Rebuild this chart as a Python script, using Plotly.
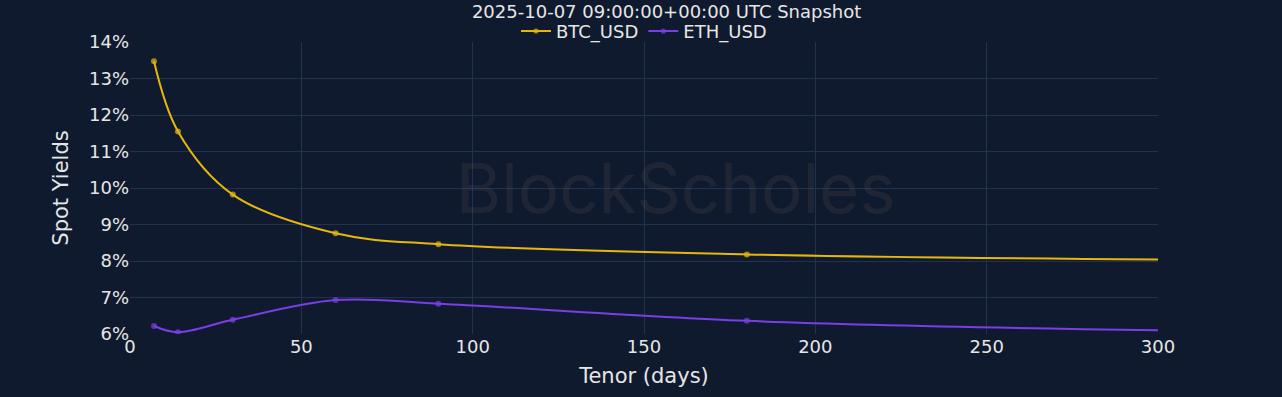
import plotly.graph_objects as go

tenors = [7, 14, 30, 60, 90, 180, 300]
btc_yields = [13.47, 11.55, 9.82, 8.76, 8.46, 8.18, 8.04]
eth_yields = [6.22, 6.05, 6.39, 6.93, 6.83, 6.36, 6.10]
marker_sizes = [6, 6, 6, 6, 6, 6, 0]

title_text = "2025-10-07 09:00:00+00:00 UTC Snapshot"
btc_color = "#e5b80b"
eth_color = "#7a3ee6"
bg = "#101a2e"
grid = "#22314f"
txt = "#e6e6e6"

fig = go.Figure()
fig.add_trace(go.Scatter(x=tenors, y=btc_yields, name="BTC_USD", mode="lines+markers",
                         line=dict(color=btc_color, width=2, shape="spline", smoothing=1.0),
                         marker=dict(size=marker_sizes, color=btc_color, line=dict(width=0))))
fig.add_trace(go.Scatter(x=tenors, y=eth_yields, name="ETH_USD", mode="lines+markers",
                         line=dict(color=eth_color, width=2, shape="spline", smoothing=1.0),
                         marker=dict(size=marker_sizes, color=eth_color, line=dict(width=0))))

fig.add_annotation(text="BlockScholes", x=0.531, y=0.50, xref="paper", yref="paper",
                   showarrow=False, font=dict(family="Inter, Roboto, sans-serif", size=69,
                                              color="rgba(140,125,110,0.12)"))

fig.update_layout(
    width=1282, height=397,
    margin=dict(l=130, r=124, t=42, b=63),
    paper_bgcolor=bg, plot_bgcolor=bg,
    font=dict(family="DejaVu Sans, Verdana, sans-serif", color=txt, size=18),
    title=dict(text=title_text, x=0.52, xanchor="center", y=0.97, yanchor="middle",
               xref="container", yref="container", font=dict(size=18, color=txt)),
    legend=dict(orientation="h", x=0.5, xanchor="center", y=1.10, yanchor="top",
                font=dict(size=18, color=txt), bgcolor="rgba(0,0,0,0)",
                itemwidth=30, tracegroupgap=0),
    showlegend=True,
)
fig.update_xaxes(range=[0, 300], dtick=50, tick0=0, showgrid=True, gridcolor=grid,
                 zeroline=False, showline=False, ticks="",
                 title=dict(text="Tenor (days)", font=dict(size=21, color=txt), standoff=12),
                 tickfont=dict(size=18, color=txt))
fig.update_yaxes(range=[6, 14], dtick=1, tick0=6, ticksuffix="%", showgrid=True, gridcolor=grid,
                 zeroline=False, showline=False, ticks="",
                 title=dict(text="Spot Yields", font=dict(size=21, color=txt), standoff=14),
                 tickfont=dict(size=18, color=txt))

fig.write_html("out.html")
